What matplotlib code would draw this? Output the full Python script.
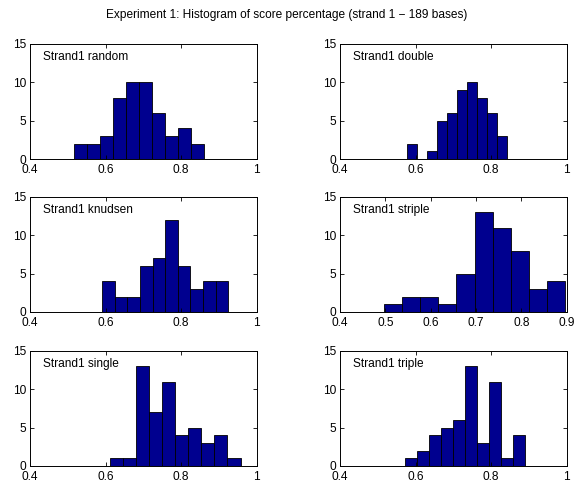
import matplotlib
matplotlib.use("Agg")
import matplotlib.pyplot as plt
import numpy as np

plt.rcParams['font.family'] = ['Liberation Sans', 'DejaVu Sans']

# panel labels, bin ranges (first edge, last edge) and counts per bin
labels = ["Strand1 random", "Strand1 double", "Strand1 knudsen",
          "Strand1 striple", "Strand1 single", "Strand1 triple"]
bin_lo = [0.5165, 0.5765, 0.5906, 0.4975, 0.6127, 0.5710]
bin_hi = [0.8616, 0.8420, 0.9250, 0.8960, 0.9570, 0.8890]
random_counts = [2, 2, 3, 8, 10, 10, 6, 3, 4, 2]
double_counts = [2, 0, 1, 5, 6, 9, 10, 8, 6, 3]
knudsen_counts = [4, 2, 2, 6, 7, 12, 6, 3, 4, 4]
striple_counts = [1, 2, 2, 1, 5, 13, 11, 8, 3, 4]
single_counts = [1, 1, 13, 7, 11, 4, 5, 3, 4, 1]
triple_counts = [1, 2, 4, 5, 6, 13, 3, 11, 1, 4]
counts = [random_counts, double_counts, knudsen_counts,
          striple_counts, single_counts, triple_counts]
xlims = [(0.4, 1), (0.4, 1), (0.4, 1), (0.4, 0.9), (0.4, 1), (0.4, 1)]
xticks_std = [0.4, 0.6, 0.8, 1.0]
xticks_striple = [0.4, 0.5, 0.6, 0.7, 0.8, 0.9]
yticks = [0, 5, 10, 15]

fs = 8.6

fig = plt.figure(figsize=(5.74, 4.8), dpi=100)
fig.text(0.5, 0.969, "Experiment 1: Histogram of score percentage (strand 1 \u2212 189 bases)",
         ha='center', va='center', fontsize=fs)

lefts = [0.0523, 0.5923]
bottoms = [0.66875, 0.35, 0.0292]
w = 0.395
h = 0.24

for i in range(6):
    r, c = divmod(i, 2)
    ax = fig.add_axes([lefts[c], bottoms[r], w, h])
    edges = np.linspace(bin_lo[i], bin_hi[i], len(counts[i]) + 1)
    ax.bar(edges[:-1], counts[i], width=np.diff(edges), align='edge',
           color='#00008F', edgecolor='black', linewidth=0.6)
    ax.set_xlim(*xlims[i])
    ax.set_ylim(0, 15)
    xt = xticks_striple if i == 3 else xticks_std
    ax.set_xticks(xt)
    ax.set_xticklabels(["%g" % t for t in xt])
    ax.set_yticks(yticks)
    ax.tick_params(direction='in', top=True, right=True, labelsize=fs,
                   length=3, width=0.6)
    ax.tick_params(axis='x', pad=3.5)
    ax.tick_params(axis='y', pad=3)
    for s in ax.spines.values():
        s.set_linewidth(0.7)
    ax.text(0.057, 0.885, labels[i], transform=ax.transAxes,
            ha='left', va='center', fontsize=fs)

fig.savefig("out.png", dpi=100)
